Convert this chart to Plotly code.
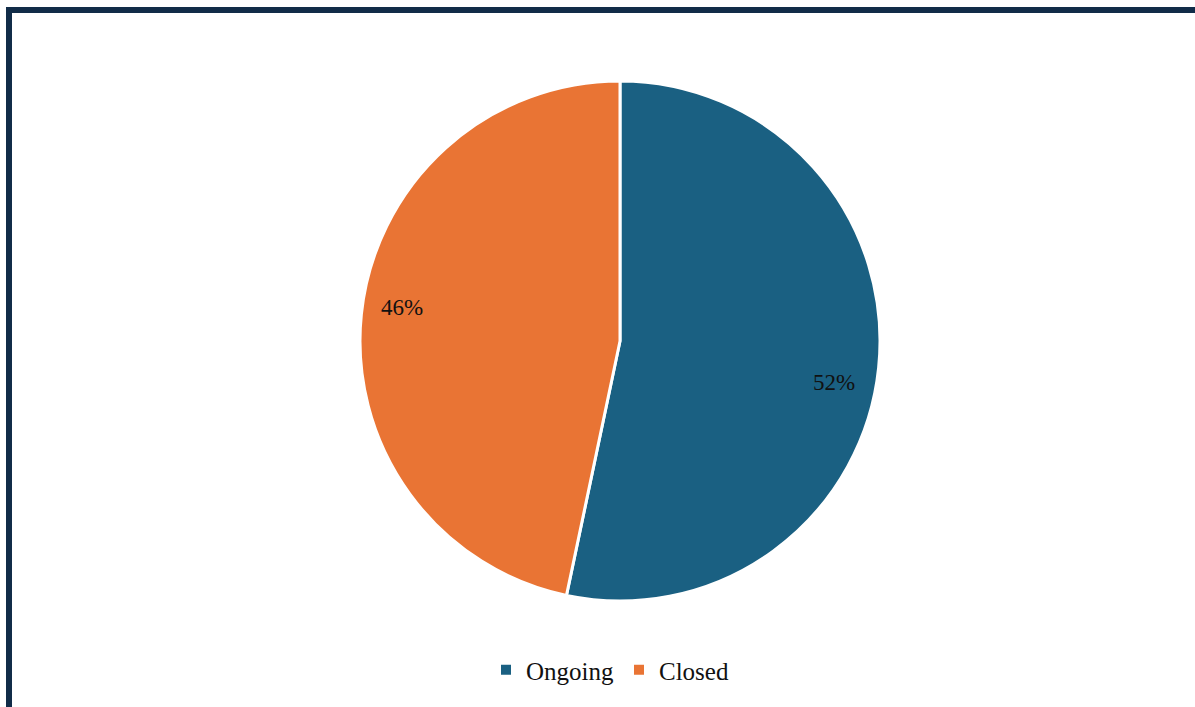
import plotly.graph_objects as go

categories = ["Ongoing", "Closed"]
shares = [53.3, 46.7]          # slice sizes
labels_text = ["52%", "46%"]   # labels printed on the slices
colors = ["#1a6082", "#e97434"]

# label anchor positions in pixels (layout, not data)
label_px = [(834, 383), (402, 307)]

W, H = 1195, 707
ml, mr, mt, mb = 45, 0, 81, 106

fig = go.Figure(go.Pie(
    labels=categories,
    values=shares,
    text=labels_text,
    textinfo="none",
    sort=False,
    direction="clockwise",
    rotation=0,
    marker=dict(colors=colors, line=dict(color="white", width=3)),
    hoverinfo="label+text",
))

pw = W - ml - mr
ph = H - mt - mb
def px_x(x):
    return (x - ml) / pw
def px_y(y):
    return (H - mb - y) / ph

annotations = [
    dict(text=t, x=px_x(p[0]), y=px_y(p[1]), xref="paper", yref="paper",
         xanchor="center", yanchor="middle", showarrow=False,
         font=dict(family="Liberation Serif", size=23, color="#111111"))
    for t, p in zip(labels_text, label_px)
]

fig.update_layout(
    width=W, height=H,
    margin=dict(l=ml, r=mr, t=mt, b=mb),
    paper_bgcolor="white",
    plot_bgcolor="white",
    font=dict(family="Liberation Serif", color="#111111"),
    showlegend=True,
    legend=dict(
        orientation="h",
        x=px_x(610), xanchor="center",
        y=px_y(670), yanchor="middle",
        font=dict(family="Liberation Serif", size=25, color="#111111"),
        itemsizing="constant",
        traceorder="normal",
    ),
    annotations=annotations,
    shapes=[dict(
        type="rect", xref="paper", yref="paper",
        x0=px_x(9), x1=px_x(1210),
        y0=px_y(730), y1=px_y(10),
        line=dict(color="#112c48", width=6),
        fillcolor="rgba(0,0,0,0)",
        layer="above",
    )],
)

fig.write_html("out.html",
               config={"displayModeBar": False},
               post_script="document.body.style.margin='0';document.body.style.overflow='hidden';")
